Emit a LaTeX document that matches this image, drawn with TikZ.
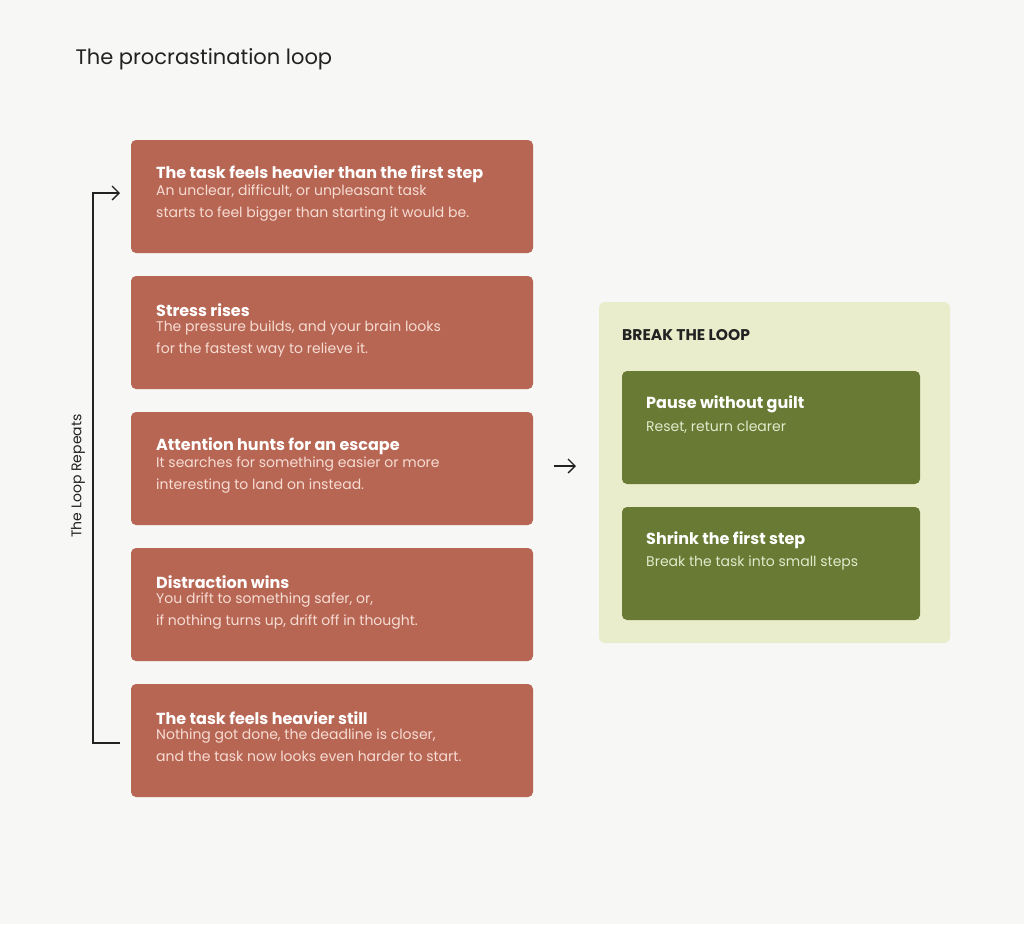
\documentclass[tikz,border=0pt]{standalone}
\usepackage{fontspec}
\setmainfont{Poppins}
\usetikzlibrary{arrows.meta}
\definecolor{bg}{HTML}{F7F7F5}
\definecolor{red}{HTML}{B86654}
\definecolor{redtxt}{HTML}{F6DCD3}
\definecolor{panel}{HTML}{E9EDCB}
\definecolor{grn}{HTML}{687A33}
\definecolor{grntxt}{HTML}{E3E9CC}
\definecolor{ink}{HTML}{222222}
\begin{document}
\begin{tikzpicture}[x=1pt,y=-1pt,
 rbox/.style={fill=red,rounded corners=5pt,draw=none},
 gbox/.style={fill=grn,rounded corners=5pt,draw=none},
 ttl/.style={anchor=west,text=white,font=\fontsize{16}{18}\selectfont\bfseries},
 body/.style={anchor=north west,text=redtxt,align=left,inner sep=0pt,font=\fontsize{14}{22}\selectfont},
 gbody/.style={anchor=west,text=grntxt,font=\fontsize{14}{18}\selectfont},
 conn/.style={draw=ink,line width=1.3pt}]
\fill[bg] (0,0) rectangle (1024,924);
\useasboundingbox (0,0) rectangle (1024,924);
\node[anchor=west,text=ink,font=\fontsize{21}{24}\selectfont] (title) at (72,59) {The procrastination loop};
\foreach \n/\y/\t/\b in {
 a/140/{The task feels heavier than the first step}/{An unclear, difficult, or unpleasant task\\starts to feel bigger than starting it would be.},
 b/276/{Stress rises}/{The pressure builds, and your brain looks\\for the fastest way to relieve it.},
 c/412/{Attention hunts for an escape}/{It searches for something easier or more\\interesting to land on instead.},
 d/548/{Distraction wins}/{You drift to something safer, or,\\if nothing turns up, drift off in thought.},
 e/684/{The task feels heavier still}/{Nothing got done, the deadline is closer,\\and the task now looks even harder to start.}}{
 \path[rbox] (131,\y) rectangle (533,\y+113);
 \node[ttl,inner sep=0pt] (\n t) at (156,\y+34) {\t};
 \node[body] (\n b) at (156,\y+45) {\b};
}
\coordinate (top) at (93,193);
\coordinate (topend) at (120,193);
\coordinate (bot) at (93,743);
\coordinate (botend) at (120,743);
\draw[conn,-{Straight Barb[length=7pt,width=14pt]}] (botend) -- (bot) -- (top) -- (topend);
\node[rotate=90,text=ink,font=\fontsize{14}{16}\selectfont] (loop) at (78,476) {The Loop Repeats};
\coordinate (ar1) at (554,466);
\coordinate (ar2) at (576,466);
\draw[conn,-{Straight Barb[length=7pt,width=14pt]}] (ar1) -- (ar2);
\path[fill=panel,rounded corners=6pt] (599,302) rectangle (950,643);
\node[anchor=west,inner sep=0pt,text=ink,font=\fontsize{15.5}{18}\selectfont\bfseries] (brk) at (622,335) {BREAK THE LOOP};
\path[gbox] (622,371) rectangle (920,484);
\node[ttl,inner sep=0pt] (g1t) at (646,404) {Pause without guilt};
\node[gbody,inner sep=0pt] (g1b) at (646,427) {Reset, return clearer};
\path[gbox] (622,507) rectangle (920,620);
\node[ttl,inner sep=0pt] (g2t) at (646,540) {Shrink the first step};
\node[gbody,inner sep=0pt] (g2b) at (646,563) {Break the task into small steps};
\end{tikzpicture}
\end{document}
